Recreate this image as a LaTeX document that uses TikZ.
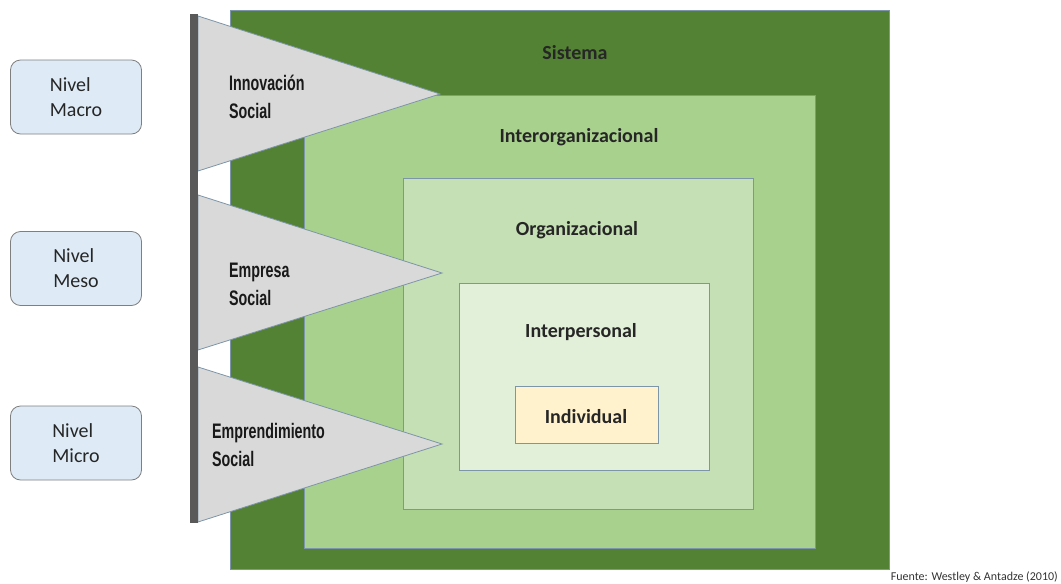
\documentclass[tikz,border=0pt]{standalone}
\usepackage{fontspec}
\setmainfont{Carlito}
\newfontfamily\agency[FakeStretch=0.68]{Liberation Sans}
\definecolor{sisG}{HTML}{548235}
\definecolor{intG}{HTML}{A9D18E}
\definecolor{orgG}{HTML}{C5E0B4}
\definecolor{perG}{HTML}{E2F0D9}
\definecolor{indY}{HTML}{FFF2CC}
\definecolor{edgeB}{HTML}{7C95A8}
\definecolor{triG}{HTML}{D9D9D9}
\definecolor{barG}{HTML}{595959}
\definecolor{nivB}{HTML}{DEEBF7}
\definecolor{nivE}{HTML}{7F7F7F}
\begin{document}
\begin{tikzpicture}[x=1pt,y=-1pt,
  layer/.style={draw=edgeB, line width=0.8pt, inner sep=0pt, anchor=north west},
  lvl/.style={font=\fontsize{20}{24}\selectfont\bfseries, text=black!85, inner sep=0pt},
  tri/.style={draw=edgeB, fill=triG, line width=0.8pt},
  trilab/.style={font=\agency\bfseries\fontsize{21}{28}\selectfont, align=left, anchor=west, inner sep=0pt, text=black!90},
  nivel/.style={draw=nivE, fill=nivB, rounded corners=10pt, line width=0.8pt, minimum width=131pt, minimum height=74pt, align=left, font=\fontsize{20}{25}\selectfont, text=black!85}
]
\useasboundingbox (0,0) rectangle (1061,584);
% nested layers
\node[layer, fill=sisG, minimum width=659pt, minimum height=559pt] (sis) at (230,10) {};
\node[layer, fill=intG, minimum width=511pt, minimum height=453pt] (inter) at (304,95) {};
\node[layer, fill=orgG, minimum width=350pt, minimum height=331pt] (org) at (403,178) {};
\node[layer, fill=perG, minimum width=250pt, minimum height=187pt] (per) at (459,283) {};
\node[layer, fill=indY, minimum width=143pt, minimum height=57pt] (ind) at (515,386) {};
% layer labels
\node[lvl] (tsis) at (575,53) {Sistema};
\node[lvl] (tinter) at (579,137) {Interorganizacional};
\node[lvl] (torg) at (577,230) {Organizacional};
\node[lvl] (tper) at (581,332) {Interpersonal};
\node[lvl] (tind) at (586,417) {Individual};
% triangles
\coordinate (t1a) at (198,16); \coordinate (t1b) at (440,94); \coordinate (t1c) at (198,171);
\coordinate (t2a) at (198,195); \coordinate (t2b) at (442,273); \coordinate (t2c) at (198,350);
\coordinate (t3a) at (198,367); \coordinate (t3b) at (442,444); \coordinate (t3c) at (198,522);
\draw[tri] (t1a) -- (t1b) -- (t1c) -- cycle;
\draw[tri] (t2a) -- (t2b) -- (t2c) -- cycle;
\draw[tri] (t3a) -- (t3b) -- (t3c) -- cycle;
% bar
\fill[barG] (190,14) rectangle (198,523);
\node[trilab] (l1) at (229,97) {Innovación\\Social};
\node[trilab] (l2) at (229,284) {Empresa\\Social};
\node[trilab] (l3) at (212,445) {Emprendimiento\\Social};
% nivel boxes
\node[nivel] (macro) at (76,97) {Nivel\\Macro};
\node[nivel] (meso) at (76,268.5) {Nivel\\Meso};
\node[nivel] (micro) at (76,443) {Nivel\\Micro};
% source
\node[anchor=east, inner sep=0pt, font=\fontsize{12}{14}\selectfont, text=black!80] (src) at (1058,577) {Fuente: Westley \& Antadze (2010)};
\end{tikzpicture}
\end{document}
